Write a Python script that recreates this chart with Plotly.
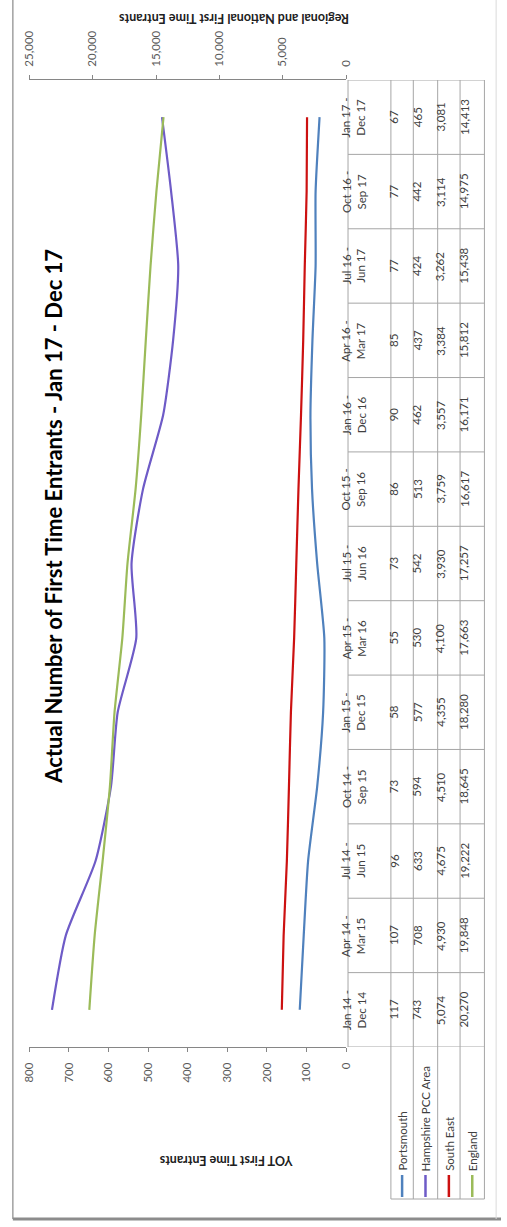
import plotly.graph_objects as go

# ---- data -------------------------------------------------------------
periods = [
    "Jan 14 -<br>Dec 14", "Apr 14 -<br>Mar 15", "Jul 14 -<br>Jun 15", "Oct 14 -<br>Sep 15",
    "Jan 15 -<br>Dec 15", "Apr 15 -<br>Mar 16", "Jul 15 -<br>Jun 16", "Oct 15 -<br>Sep 16",
    "Jan 16 -<br>Dec 16", "Apr 16 -<br>Mar 17", "Jul 16 -<br>Jun 17", "Oct 16 -<br>Sep 17",
    "Jan 17 -<br>Dec 17",
]
portsmouth = [117, 107, 96, 73, 58, 55, 73, 86, 90, 85, 77, 77, 67]
hampshire = [743, 708, 633, 594, 577, 530, 542, 513, 462, 437, 424, 442, 465]
south_east = [5074, 4930, 4675, 4510, 4355, 4100, 3930, 3759, 3557, 3384, 3262, 3114, 3081]
england = [20270, 19848, 19222, 18645, 18280, 17663, 17257, 16617, 16171, 15812, 15438, 14975, 14413]

series_names = ["Portsmouth", "Hampshire PCC Area", "South East", "England"]
series_values = [portsmouth, hampshire, south_east, england]
series_colors = ["#4F81BD", "#6E5BC7", "#CC1111", "#9BBB59"]
series_axis = ["x", "x", "x2", "x2"]

primary_ticks = list(range(0, 801, 100))
secondary_ticks = list(range(0, 25001, 5000))

# ---- page geometry (pixels) -------------------------------------------
W, H = 507, 1227
PLOT_LEFT, PLOT_RIGHT = 23, 348
PLOT_TOP, PLOT_BOTTOM = 80, 1047
TABLE_COLS = [350, 394, 417, 442, 465, 490]
LEGEND_BOTTOM = 1199
GRID = "#A6A6A6"
TEXT = "#404040"
FONT = "Lato, 'Open Sans', sans-serif"
CELL_SIZE = 11.5


def px(x):
    return x / W


def py(y):
    return 1 - y / H


idx = list(range(len(periods)))

fig = go.Figure()
for name, vals, color, ax in zip(series_names, series_values, series_colors, series_axis):
    fig.add_trace(go.Scatter(
        x=vals, y=idx, name=name, mode="lines", xaxis=ax, yaxis="y",
        line=dict(color=color, width=2.2, shape="spline", smoothing=0.6),
        showlegend=False,
    ))

shapes = []
annotations = []

# table grid: category rows
n = len(periods)
for i in range(n + 1):
    yv = i - 0.5
    shapes.append(dict(type="line", xref="paper", yref="y",
                       x0=px(TABLE_COLS[0]), x1=px(TABLE_COLS[-1]), y0=yv, y1=yv,
                       line=dict(color=GRID, width=1)))
# table grid: columns
shapes.append(dict(type="line", xref="paper", yref="paper",
                   x0=px(TABLE_COLS[0]), x1=px(TABLE_COLS[0]),
                   y0=py(PLOT_TOP), y1=py(PLOT_BOTTOM), line=dict(color=GRID, width=1)))
for c in TABLE_COLS[1:]:
    shapes.append(dict(type="line", xref="paper", yref="paper",
                       x0=px(c), x1=px(c), y0=py(PLOT_TOP), y1=py(LEGEND_BOTTOM),
                       line=dict(color=GRID, width=1)))
shapes.append(dict(type="line", xref="paper", yref="paper",
                   x0=px(TABLE_COLS[1]), x1=px(TABLE_COLS[-1]),
                   y0=py(LEGEND_BOTTOM), y1=py(LEGEND_BOTTOM), line=dict(color=GRID, width=1)))

# period labels
hdr_x = (TABLE_COLS[0] + TABLE_COLS[1]) / 2
for i, lab in enumerate(periods):
    annotations.append(dict(text=lab, xref="paper", yref="y", x=px(hdr_x), y=i,
                            textangle=-90, showarrow=False, align="center",
                            font=dict(family=FONT, size=CELL_SIZE, color=TEXT)))

# values per series + legend keys
for k, (name, vals, color) in enumerate(zip(series_names, series_values, series_colors)):
    cx = (TABLE_COLS[k + 1] + TABLE_COLS[k + 2]) / 2
    for i, v in enumerate(vals):
        annotations.append(dict(text=f"{v:,}", xref="paper", yref="y", x=px(cx), y=i,
                                textangle=-90, showarrow=False,
                                font=dict(family=FONT, size=CELL_SIZE, color=TEXT)))
    shapes.append(dict(type="line", xref="paper", yref="paper",
                       x0=px(cx), x1=px(cx), y0=py(1197), y1=py(1175),
                       line=dict(color=color, width=2.5)))
    annotations.append(dict(text=name, xref="paper", yref="paper", x=px(cx), y=py(1173),
                            xanchor="center", yanchor="bottom", textangle=-90,
                            showarrow=False, font=dict(family=FONT, size=CELL_SIZE, color=TEXT)))

# chart frame
shapes.append(dict(type="line", xref="paper", yref="paper", x0=px(6), x1=px(6),
                   y0=1, y1=py(1219), line=dict(color="#A0A0A0", width=1.5)))
shapes.append(dict(type="line", xref="paper", yref="paper", x0=px(6), x1=1,
                   y0=py(1219), y1=py(1219), line=dict(color="#8C8C8C", width=3)))
shapes.append(dict(type="line", xref="paper", yref="paper", x0=px(502), x1=px(502),
                   y0=1, y1=py(1219), line=dict(color="#DADADA", width=1)))

# titles
annotations.append(dict(text="<b>Actual Number of First Time Entrants - Jan 17 - Dec 17</b>",
                        xref="paper", yref="paper", x=px(32), y=py(516), textangle=-90,
                        showarrow=False, font=dict(family=FONT, size=22, color="#000000")))
annotations.append(dict(text="<b>Regional and National First Time Entrants</b>",
                        xref="paper", yref="paper", x=px(233), y=py(9), textangle=180,
                        showarrow=False, font=dict(family=FONT, size=12.5, color="#202020")))
annotations.append(dict(text="<b>YOT First Time Entrants</b>",
                        xref="paper", yref="paper", x=px(225), y=py(1170), textangle=180,
                        showarrow=False, font=dict(family=FONT, size=12.5, color="#202020")))

axis_common = dict(
    showgrid=False, zeroline=False, showline=True, linecolor="#868686", linewidth=1,
    ticks="outside", ticklen=4, tickcolor="#868686", tickangle=-90,
    tickfont=dict(family=FONT, size=11.5, color="#595959"),
    domain=[px(PLOT_LEFT), px(PLOT_RIGHT)], ticklabelstandoff=6,
)

fig.update_layout(
    width=W, height=H,
    margin=dict(l=0, r=0, t=0, b=0),
    paper_bgcolor="white", plot_bgcolor="white",
    xaxis=dict(range=[800, 0], tickvals=primary_ticks, side="bottom", anchor="y", **axis_common),
    xaxis2=dict(range=[25000, 0], tickvals=secondary_ticks, tickformat=",", side="top",
                anchor="y", overlaying="x", **axis_common),
    yaxis=dict(range=[-0.5, n - 0.5], domain=[py(PLOT_BOTTOM), py(PLOT_TOP)],
               showgrid=False, zeroline=False, showline=False, showticklabels=False, ticks=""),
    shapes=shapes,
    annotations=annotations,
    showlegend=False,
)

fig.write_html("out.html")
